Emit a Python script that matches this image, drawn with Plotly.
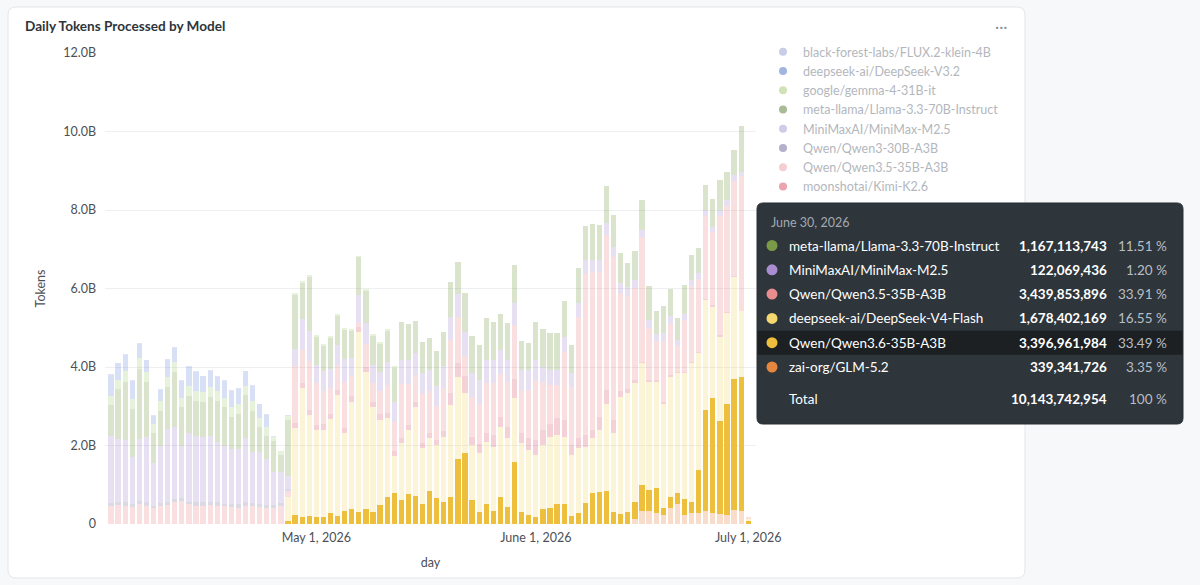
import plotly.graph_objects as go
import pandas as pd

# ---------------- data (billions of tokens per day, Apr 2 .. Jul 1, 2026) ----------------
START_DAY = "2026-04-02"
N_DAYS = 91
TOOLTIP_DAY = "2026-06-30"

MODELS = [
    "black-forest-labs/FLUX.2-klein-4B",
    "deepseek-ai/DeepSeek-V3.2",
    "google/gemma-4-31B-it",
    "meta-llama/Llama-3.3-70B-Instruct",
    "MiniMaxAI/MiniMax-M2.5",
    "Qwen/Qwen3-30B-A3B",
    "Qwen/Qwen3.5-35B-A3B",
    "moonshotai/Kimi-K2.6",
    "deepseek-ai/DeepSeek-V4-Flash",
    "Qwen/Qwen3.6-35B-A3B",
    "zai-org/GLM-5.2",
]
HIGHLIGHT = "Qwen/Qwen3.6-35B-A3B"
LEGEND_SHOWN = MODELS[:8]

FLUX = [0.02] * 26 + [0] * 65

DSV32 = [0.53, 0.42, 0.42, 0.47, 0.37, 0.30, 0.21, 0.28, 0.44, 0.36,
         0.42, 0.50, 0.47, 0.40, 0.42, 0.36, 0.42, 0.42, 0.38, 0.37,
         0.38, 0.36, 0.31, 0, 0, 0, 0, 0, 0, 0,
         0, 0, 0, 0, 0, 0, 0, 0, 0, 0,
         0, 0, 0, 0, 0, 0, 0, 0, 0, 0,
         0, 0, 0, 0, 0, 0, 0, 0, 0, 0,
         0, 0, 0, 0, 0, 0, 0, 0, 0, 0,
         0, 0, 0, 0, 0, 0, 0, 0, 0, 0,
         0, 0, 0, 0, 0, 0, 0, 0, 0, 0,
         0]

GEMMA = [0.25, 0.24, 0.26, 0.25, 0.27, 0.25, 0.22, 0.25, 0.26, 0.25,
         0.24, 0.25, 0.26, 0.25, 0.25, 0.24, 0.25, 0.26, 0.25, 0.24,
         0.25, 0.23, 0.22, 0.10, 0.10, 0.10, 0.05, 0.05, 0.05, 0.05,
         0.05, 0.04, 0.05, 0.05, 0.06, 0.05, 0.05, 0.04, 0.05, 0.05,
         0.05, 0, 0, 0, 0, 0, 0, 0, 0, 0,
         0, 0, 0, 0, 0, 0, 0, 0, 0, 0,
         0, 0, 0, 0, 0, 0, 0, 0, 0, 0,
         0, 0, 0, 0, 0, 0, 0, 0, 0, 0,
         0, 0, 0, 0, 0, 0, 0, 0, 0, 0,
         0]

LLAMA = [0.77, 1.27, 1.50, 1.23, 1.78, 1.41, 0.77, 0.89, 1.06, 1.40,
         0.98, 0.94, 0.89, 0.90, 0.98, 1.06, 0.98, 0.81, 0.90, 1.10,
         1.06, 0.63, 0.60, 0.80, 0.43, 1.43, 1.36, 0.90, 1.38, 0.72,
         0.64, 0.78, 0.76, 0.74, 0.70, 0.96, 0.81, 0.75, 0.70, 0.79,
         0.87, 0.98, 0.92, 0.82, 0.78, 0.82, 0.89, 0.87, 0.89, 0.81,
         1.00, 0.95, 0.89, 1.06, 0.96, 0.91, 0.93, 0.98, 0.74, 0.70,
         0.98, 0.96, 0.93, 0.93, 0.91, 0.72, 0.89, 0.85, 0.92, 0.89,
         0.95, 0.81, 0.76, 0.61, 0.74, 0.76, 0.87, 0.58, 0.68, 0.70,
         0.55, 0.75, 0.64, 0.64, 0.64, 0.72, 0.75, 0.70, 0.65, 1.167113743,
         0]

MINIMAX = [1.72, 1.61, 1.58, 1.18, 1.59, 1.65, 1.09, 1.47, 1.86, 1.83,
           1.34, 1.75, 1.70, 1.66, 1.69, 1.53, 1.47, 1.39, 1.41, 1.62,
           1.30, 1.31, 1.16, 0.84, 0.79, 0.35, 0.45, 0.80, 0.76, 0.45,
           0.50, 0.50, 0.50, 0.60, 0.45, 0.70, 0.55, 0.45, 0.50, 0.60,
           0.50, 0.60, 0.60, 0.55, 0.55, 0.55, 0.50, 0.55, 0.60, 0.60,
           0.60, 0.60, 0.60, 0.60, 0.60, 0.60, 0.55, 0.55, 0.50, 0.50,
           0.50, 0.40, 0.40, 0.40, 0.40, 0.35, 0.35, 0.35, 0.30, 0.30,
           0.30, 0.25, 0.25, 0.25, 0.20, 0.20, 0.20, 0.20, 0.20, 0.20,
           0.16, 0.14, 0.15, 0.17, 0.15, 0.14, 0.16, 0.15, 0.14, 0.122069436,
           0]

QWEN3_30B = [0.08, 0.07, 0.09, 0.08, 0.08, 0.09, 0.07, 0.08, 0.08, 0.09,
             0.08, 0.07, 0.08, 0.09, 0.08, 0.08, 0.07, 0.08, 0.08, 0.09,
             0.08, 0.08, 0.07, 0.08, 0.08, 0.05, 0, 0, 0, 0,
             0, 0, 0, 0, 0, 0, 0, 0, 0, 0,
             0, 0, 0, 0, 0, 0, 0, 0, 0, 0,
             0, 0, 0, 0, 0, 0, 0, 0, 0, 0,
             0, 0, 0, 0, 0, 0, 0, 0, 0, 0,
             0, 0, 0, 0, 0, 0, 0, 0, 0, 0,
             0, 0, 0, 0, 0, 0, 0, 0, 0, 0,
             0]

QWEN35 = [0.45, 0.48, 0.46, 0.44, 0.50, 0.47, 0.40, 0.45, 0.48, 0.55,
          0.58, 0.50, 0.47, 0.46, 0.48, 0.47, 0.45, 0.44, 0.42, 0.47,
          0.45, 0.44, 0.42, 0.40, 0.45, 0.15, 1.45, 0.83, 1.24, 1.08,
          0.85, 0.66, 0.64, 1.17, 0.51, 0.10, 0.58, 0.47, 0.59, 0.71,
          0.74, 1.38, 1.06, 0.68, 1.23, 1.07, 0.86, 1.10, 1.35, 1.18,
          0.50, 1.02, 1.02, 1.27, 1.31, 1.10, 1.15, 1.37, 1.11, 1.23,
          1.53, 1.22, 0.97, 0.84, 1.73, 1.48, 3.09, 4.11, 4.03, 3.70,
          3.95, 4.16, 2.50, 2.35, 2.34, 3.16, 1.33, 0.99, 1.57, 1.30,
          0.66, 1.33, 1.93, 1.84, 2.10, 1.85, 3.03, 2.70, 2.41, 3.439853896,
          0.05]

KIMI = [0, 0, 0, 0, 0, 0, 0, 0, 0, 0,
        0, 0, 0, 0, 0, 0, 0, 0, 0, 0,
        0, 0, 0, 0, 0, 0, 0.13, 0.14, 0.13, 0.12,
        0.15, 0.13, 0.12, 0.13, 0.14, 0.13, 0.12, 0.13, 0.14, 0.13,
        0.15, 0.13, 0.12, 0.13, 0.14, 0.13, 0.14, 0.15, 0.30, 0.34,
        0.45, 0.21, 0.25, 0.21, 0.30, 0.25, 0.30, 0.50, 0.25, 0.30,
        0.38, 0.38, 0.34, 0.42, 0.42, 0.25, 0.25, 0.30, 0.21, 0.34,
        0.34, 0.34, 0.15, 0.12, 0.10, 0.05, 0.04, 0.03, 0.05, 0.04,
        0.03, 0.04, 0.05, 0.04, 0.03, 0.04, 0.05, 0.04, 0.03, 0,
        0]

DSV4_FLASH = [0, 0, 0, 0, 0, 0, 0, 0, 0, 0,
              0, 0, 0, 0, 0, 0, 0, 0, 0, 0,
              0, 0, 0, 0, 0, 0.60, 2.21, 3.29, 2.57, 2.20,
              2.22, 2.38, 3.09, 1.97, 2.75, 4.59, 3.49, 2.68, 2.17, 1.99,
              0.94, 1.45, 1.63, 2.28, 1.43, 1.33, 1.36, 1.67, 2.35, 2.09,
              1.53, 1.40, 1.49, 1.59, 1.63, 1.80, 1.74, 1.63, 1.76, 1.66,
              1.59, 1.64, 1.82, 1.76, 1.71, 1.56, 1.66, 1.44, 1.40, 1.57,
              2.23, 2.01, 2.99, 3.02, 3.01, 3.10, 2.76, 2.72, 2.63, 3.05,
              3.06, 3.20, 3.52, 2.97, 2.81, 2.34, 2.14, 2.32, 2.61, 1.678402169,
              0.06]

QWEN36 = [0, 0, 0, 0, 0, 0, 0, 0, 0, 0,
          0, 0, 0, 0, 0, 0, 0, 0, 0, 0,
          0, 0, 0, 0, 0, 0.08, 0.23, 0.17, 0.21, 0.19,
          0.17, 0.29, 0.20, 0.34, 0.37, 0.31, 0.39, 0.31, 0.48, 0.70,
          0.78, 0.61, 0.76, 0.71, 0.50, 0.85, 0.65, 0.55, 0.68, 1.66,
          1.80, 0.61, 0.31, 0.51, 0.34, 0.68, 0.44, 1.57, 0.30, 0.23,
          0.17, 0.37, 0.40, 0.51, 0.51, 0.20, 0.27, 0.53, 0.78, 0.82,
          0.84, 0.30, 0.25, 0.31, 0.43, 0.65, 0.53, 0.62, 0.19, 0.28,
          0.27, 0.41, 0.30, 1.11, 2.56, 2.93, 2.38, 2.82, 3.33, 3.396961984,
          0.08]

GLM = [0, 0, 0, 0, 0, 0, 0, 0, 0, 0,
       0, 0, 0, 0, 0, 0, 0, 0, 0, 0,
       0, 0, 0, 0, 0, 0, 0, 0, 0, 0,
       0, 0, 0, 0, 0, 0, 0, 0, 0, 0,
       0, 0, 0, 0, 0, 0, 0, 0, 0, 0,
       0, 0, 0, 0, 0, 0, 0, 0, 0, 0,
       0, 0, 0, 0, 0, 0, 0, 0, 0, 0,
       0, 0, 0, 0, 0.14, 0.34, 0.34, 0.29, 0.23, 0.42,
       0.51, 0.23, 0.27, 0.27, 0.34, 0.27, 0.25, 0.23, 0.36, 0.339341726,
       0]

VALUES = [FLUX, DSV32, GEMMA, LLAMA, MINIMAX, QWEN3_30B, QWEN35, KIMI,
          DSV4_FLASH, QWEN36, GLM]

Y_TICKS = [0, 2e9, 4e9, 6e9, 8e9, 10e9, 12e9]

# ---------------- styles ----------------
COLORS = ["#8E9FDB", "#6F8FD6", "#A9CF7A", "#7A9A48", "#A98DD0", "#7D779E",
          "#E88D8D", "#D65A70", "#F5D870", "#EDBF3C", "#E6873F"]
LEGEND_COLORS = ["#C8CDE8", "#A2B5E0", "#D0E2B6", "#A8BB96", "#D3CAE8",
                 "#B5B0CA", "#F4CED3", "#EAA4AE"]
FADE = 0.28
FONT = "Lato"

W, H = 1200, 585
L, R, T, B = 105, 444, 53, 61
PW, PH = W - L - R, H - T - B


def px(x):
    return (x - L) / PW


def py(y):
    return (H - B - y) / PH


def rgba(hexc, a):
    hexc = hexc.lstrip("#")
    r, g, b = int(hexc[0:2], 16), int(hexc[2:4], 16), int(hexc[4:6], 16)
    return f"rgba({r},{g},{b},{a})"


def rounded_path(x0, y0, x1, y1, r):
    pts = [
        ("M", [(x0 + r, y0)]), ("L", [(x1 - r, y0)]), ("Q", [(x1, y0), (x1, y0 + r)]),
        ("L", [(x1, y1 - r)]), ("Q", [(x1, y1), (x1 - r, y1)]), ("L", [(x0 + r, y1)]),
        ("Q", [(x0, y1), (x0, y1 - r)]), ("L", [(x0, y0 + r)]), ("Q", [(x0, y0), (x0 + r, y0)]),
    ]
    s = ""
    for cmd, cs in pts:
        s += cmd + " " + " ".join(f"{px(a):.5f},{py(b):.5f}" for a, b in cs) + " "
    return s + "Z"


days = pd.date_range(START_DAY, periods=N_DAYS, freq="D")

fig = go.Figure()

# bars: stack bottom -> top is the reverse of the legend order
for name, vals, col in reversed(list(zip(MODELS, VALUES, COLORS))):
    color = col if name == HIGHLIGHT else rgba(col, FADE)
    fig.add_trace(go.Bar(
        x=days, y=[v * 1e9 for v in vals], name=name, showlegend=False,
        marker=dict(color=color, line=dict(width=0)),
    ))

# legend entries (dots)
for name, col in zip(LEGEND_SHOWN, LEGEND_COLORS):
    fig.add_trace(go.Scatter(
        x=[None], y=[None], mode="markers", name=name,
        marker=dict(color=col, size=8, symbol="circle"), showlegend=True,
    ))

shapes = []
annotations = []

# card background
shapes.append(dict(type="path", xref="paper", yref="paper", layer="below",
                   path=rounded_path(8, 7, 1025, 578, 8),
                   fillcolor="#FFFFFF", line=dict(color="#E3E6E9", width=1)))

# ellipsis menu
annotations.append(dict(x=px(1001), y=py(25), xref="paper", yref="paper",
                        text="···", showarrow=False, xanchor="center", yanchor="middle",
                        font=dict(family=FONT, size=16, color="#8D939C")))

# tooltip for June 30
tip_idx = list(days.strftime("%Y-%m-%d")).index(TOOLTIP_DAY)
rows = [(n, int(round(v[tip_idx] * 1e9)), c) for n, v, c in zip(MODELS, VALUES, COLORS)
        if v[tip_idx] > 0]
total = sum(r[1] for r in rows)

shapes.append(dict(type="path", xref="paper", yref="paper", layer="above",
                   path=rounded_path(757, 203, 1183, 424, 6),
                   fillcolor="#2E353B", line=dict(color="#2A3035", width=1)))

annotations.append(dict(x=px(769), y=py(222), xref="paper", yref="paper",
                        text=pd.Timestamp(TOOLTIP_DAY).strftime("%B %-d, %Y"),
                        showarrow=False, xanchor="left", yanchor="middle",
                        font=dict(family=FONT, size=12.5, color="#A3A9B0")))

row_y0, row_dy = 245.5, 24.3
for k, (name, val, col) in enumerate(rows):
    yc = row_y0 + k * row_dy
    if name == HIGHLIGHT:
        shapes.append(dict(type="rect", xref="paper", yref="paper", layer="above",
                           x0=px(757.5), x1=px(1182.5), y0=py(yc - 12), y1=py(yc + 12),
                           fillcolor="#1C2023", line=dict(width=0)))
    shapes.append(dict(type="circle", xref="paper", yref="paper", layer="above",
                       x0=px(772 - 5.5), x1=px(772 + 5.5), y0=py(yc - 5.5), y1=py(yc + 5.5),
                       fillcolor=col, line=dict(width=0)))
    annotations.append(dict(x=px(787), y=py(yc), xref="paper", yref="paper", text=name,
                            showarrow=False, xanchor="left", yanchor="middle",
                            font=dict(family=FONT, size=13.5, color="#FFFFFF")))
    annotations.append(dict(x=px(1109), y=py(yc), xref="paper", yref="paper",
                            text=f"{val:,}", showarrow=False, xanchor="right", yanchor="middle",
                            font=dict(family=FONT, size=13.5, color="#FFFFFF", weight=700)))
    annotations.append(dict(x=px(1169), y=py(yc), xref="paper", yref="paper",
                            text=f"{val / total * 100:.2f} %", showarrow=False,
                            xanchor="right", yanchor="middle",
                            font=dict(family=FONT, size=13.5, color="#B9BEC4")))

yt = 399
annotations.append(dict(x=px(787), y=py(yt), xref="paper", yref="paper", text="Total",
                        showarrow=False, xanchor="left", yanchor="middle",
                        font=dict(family=FONT, size=13.5, color="#FFFFFF")))
annotations.append(dict(x=px(1109), y=py(yt), xref="paper", yref="paper", text=f"{total:,}",
                        showarrow=False, xanchor="right", yanchor="middle",
                        font=dict(family=FONT, size=13.5, color="#FFFFFF", weight=700)))
annotations.append(dict(x=px(1169), y=py(yt), xref="paper", yref="paper", text="100 %",
                        showarrow=False, xanchor="right", yanchor="middle",
                        font=dict(family=FONT, size=13.5, color="#B9BEC4")))

fig.update_layout(
    width=W, height=H,
    margin=dict(l=L, r=R, t=T, b=B),
    paper_bgcolor="#F7F8F9",
    plot_bgcolor="rgba(0,0,0,0)",
    barmode="stack",
    bargap=0.26,
    hovermode=False,
    font=dict(family=FONT, size=12.5, color="#4C5056"),
    title=dict(text="Daily Tokens Processed by Model", x=25 / W, xanchor="left",
               xref="container", y=1 - 26 / H, yanchor="middle", yref="container",
               font=dict(family=FONT, size=13.6, color="#2E353B", weight=700)),
    xaxis=dict(
        type="date",
        range=["2026-04-01 03:36", "2026-07-02 02:24"],
        tick0="2026-05-01", dtick="M1", tickformat="%B %-d, %Y",
        showgrid=False, zeroline=False, showline=False, ticks="",
        ticklabelstandoff=4,
        tickfont=dict(family=FONT, size=12.5, color="#4C5056"),
        title=dict(text="day", standoff=14,
                   font=dict(family=FONT, size=12.5, color="#4C5056")),
    ),
    yaxis=dict(
        range=[0, 12e9],
        tickvals=Y_TICKS,
        ticktext=["0" if v == 0 else f"{v / 1e9:.1f}B" for v in Y_TICKS],
        showgrid=True, gridcolor="#EDEFF1", gridwidth=1,
        zeroline=False, showline=False, ticks="",
        ticklabelstandoff=8,
        tickfont=dict(family=FONT, size=12.5, color="#4C5056"),
        title=dict(text="Tokens", standoff=14,
                   font=dict(family=FONT, size=12.5, color="#4C5056")),
    ),
    legend=dict(
        x=px(763), y=py(37), xanchor="left", yanchor="top",
        traceorder="normal",
        font=dict(family=FONT, size=12.5, color="#B3B7BD"),
        bgcolor="rgba(0,0,0,0)", tracegroupgap=0,
    ),
    shapes=shapes,
    annotations=annotations,
)

fig.write_html("out.html")
